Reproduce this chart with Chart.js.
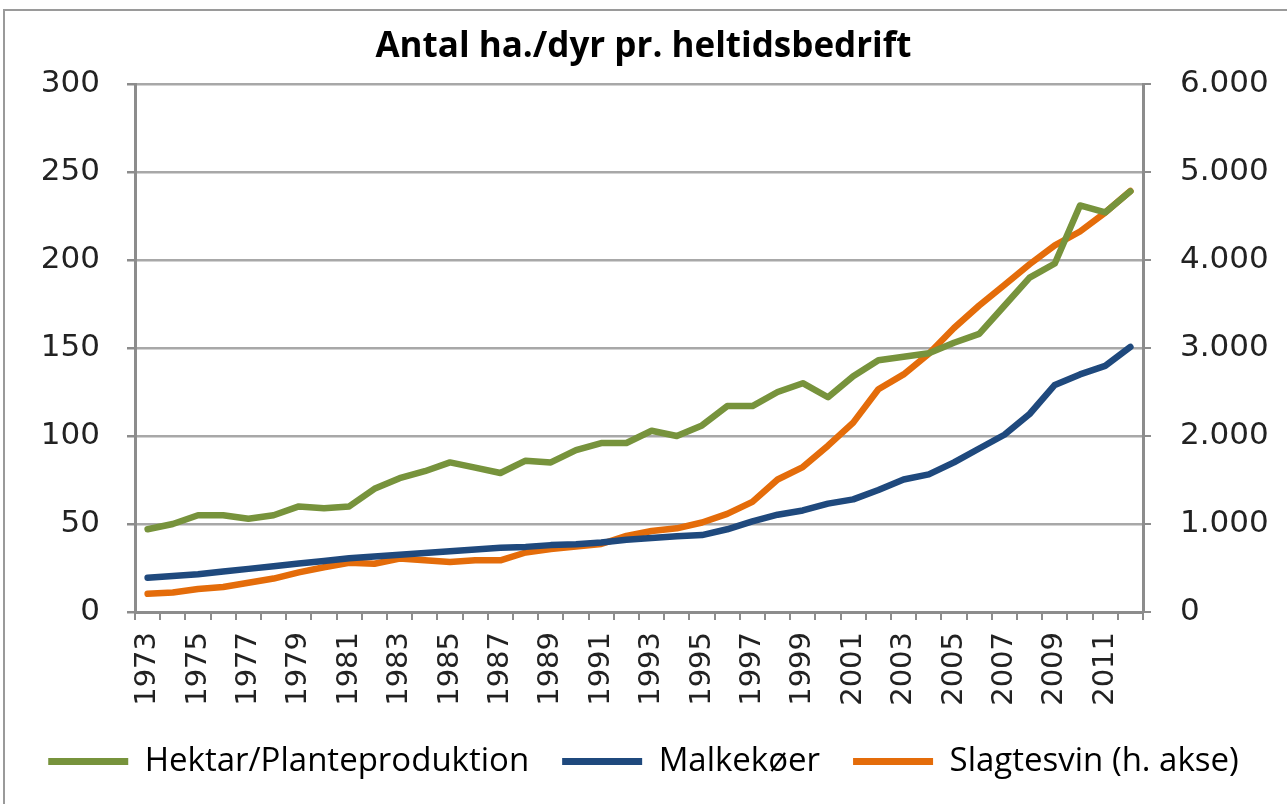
<!DOCTYPE html>
<html lang="da">
  <head>
    <meta charset="UTF-8" />
    <meta name="viewport" content="width=device-width, initial-scale=1.0" />
    <title>Antal ha./dyr pr. heltidsbedrift</title>
    <script src="https://cdn.jsdelivr.net/npm/chart.js"></script>
    <style>
      html, body { margin: 0; padding: 0; background: #fff; overflow: hidden; }
      .frame {
        position: absolute; left: 3px; top: 9px; width: 1300px; height: 810px;
        border-left: 2px solid #9a9a9a; border-top: 2px solid #9a9a9a;
      }
      .wrap { position: absolute; left: 0; top: 0; width: 1287px; height: 804px; }
    </style>
  </head>
  <body>
    <div class="frame"></div>
    <div class="wrap"><canvas id="chart"></canvas></div>
    <script>
      const years = [
        "1973", "1974", "1975", "1976", "1977", "1978", "1979", "1980", "1981", "1982",
        "1983", "1984", "1985", "1986", "1987", "1988", "1989", "1990", "1991", "1992",
        "1993", "1994", "1995", "1996", "1997", "1998", "1999", "2000", "2001", "2002",
        "2003", "2004", "2005", "2006", "2007", "2008", "2009", "2010", "2011", "2012"
      ];
      // venstre akse
      const hektar = [
        47, 50, 55, 55, 53, 55, 60, 59, 60, 70,
        76, 80, 85, 82, 79, 86, 85, 92, 96, 96,
        103, 100, 106, 117, 117, 125, 130, 122, 134, 143,
        145, 147, 153, 158, 174, 190, 198, 231, 227, 239
      ];
      const malkekoer = [
        19.5, 20.5, 21.5, 23, 24.5, 26, 27.5, 29, 30.5, 31.5,
        32.5, 33.5, 34.5, 35.5, 36.5, 37, 38, 38.5, 39.5, 41,
        42, 43, 43.7, 47, 51.5, 55.3, 57.7, 61.6, 64, 69.3,
        75.3, 78.2, 85, 92.9, 100.7, 112.5, 129, 135, 139.8, 150.6
      ];
      // hoejre akse
      const slagtesvin = [
        207, 222, 261, 284, 332, 380, 450, 508, 559, 548,
        607, 587, 568, 587, 587, 676, 716, 743, 773, 864,
        920, 951, 1017, 1115, 1252, 1506, 1647, 1890, 2152, 2532,
        2700, 2934, 3227, 3483, 3716, 3952, 4167, 4324, 4539, 4784
      ];
      const leftTicks = [0, 50, 100, 150, 200, 250, 300];
      const rightTicks = [0, 1000, 2000, 3000, 4000, 5000, 6000];

      const green = "#77933c";
      const blue = "#1f497d";
      const orange = "#e46c0a";
      const axisGray = "#8c8c8c";
      const gridGray = "#a8a8a8";
      const tickFont = { family: "DejaVu Sans", size: 31 };

      const ctx = document.getElementById("chart");
      new Chart(ctx, {
        type: "line",
        data: {
          labels: years,
          datasets: [
            { label: "Hektar/Planteproduktion", data: hektar, borderColor: green, backgroundColor: green, yAxisID: "y" },
            { label: "Malkekøer", data: malkekoer, borderColor: blue, backgroundColor: blue, yAxisID: "y" },
            { label: "Slagtesvin (h. akse)", data: slagtesvin, borderColor: orange, backgroundColor: orange, yAxisID: "y2" },
          ],
        },
        options: {
          responsive: true,
          maintainAspectRatio: false,
          animation: false,
          elements: {
            point: { radius: 0, borderWidth: 7 },
            line: { borderWidth: 6.5, tension: 0, borderCapStyle: "round", borderJoinStyle: "round" },
          },
          layout: { padding: { left: 0, right: 0, top: 0, bottom: 16 } },
          plugins: {
            tooltip: { enabled: false },
            title: {
              display: true,
              text: "Antal ha./dyr pr. heltidsbedrift",
              color: "#000",
              font: { family: "Open Sans", size: 35, weight: "bold" },
              padding: { top: 26, bottom: 16 },
            },
            legend: {
              position: "bottom",
              labels: {
                usePointStyle: true,
                pointStyle: "line",
                pointStyleWidth: 80,
                boxHeight: 33,
                color: "#000",
                font: { family: "Open Sans", size: 33 },
                padding: 33,
              },
            },
          },
          scales: {
            x: {
              offset: true,
              afterFit: (s) => { s.height = 100; },
              grid: { offset: true, drawOnChartArea: false, drawTicks: true, tickLength: 8, color: axisGray, lineWidth: 2 },
              border: { color: axisGray, width: 3 },
              ticks: {
                autoSkip: false,
                minRotation: 90,
                maxRotation: 90,
                padding: 12,
                color: "#222",
                font: { family: "DejaVu Sans", size: 29 },
                callback: function (v, i) {
                  return i % 2 === 0 ? this.getLabelForValue(v) : "";
                },
              },
            },
            y: {
              position: "left",
              min: 0,
              max: 300,
              afterBuildTicks: (s) => { s.ticks = leftTicks.map((v) => ({ value: v })); },
              afterFit: (s) => { s.width = 135; },
              grid: { color: gridGray, lineWidth: 2.5, tickLength: 8, tickColor: axisGray },
              border: { color: axisGray, width: 3 },
              ticks: { color: "#222", font: tickFont, padding: 27 },
            },
            y2: {
              position: "right",
              min: 0,
              max: 6000,
              afterBuildTicks: (s) => { s.ticks = rightTicks.map((v) => ({ value: v })); },
              afterFit: (s) => { s.width = 144; },
              grid: { drawOnChartArea: false, tickLength: 8, color: axisGray, lineWidth: 2 },
              border: { color: axisGray, width: 3 },
              ticks: {
                color: "#222",
                font: tickFont,
                padding: 29,
                callback: (v) => (v === 0 ? "0" : v / 1000 + ".000"),
              },
            },
          },
        },
      });
    </script>
  </body>
</html>
